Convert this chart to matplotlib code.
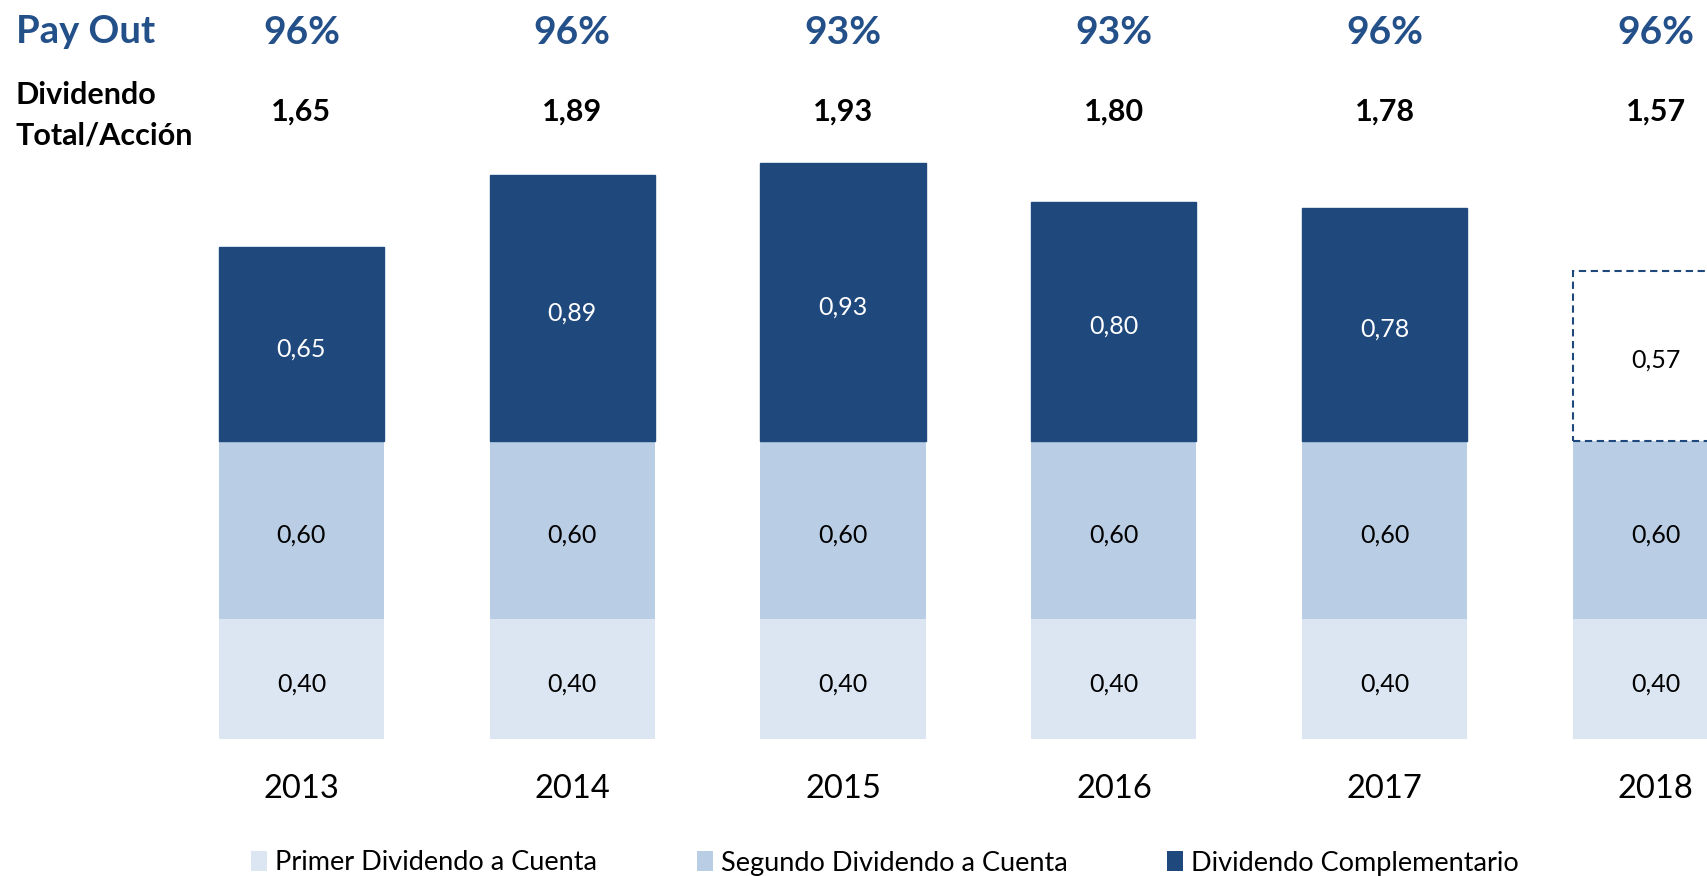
import matplotlib
matplotlib.use('Agg')
from matplotlib import pyplot as plt
from matplotlib.patches import Patch
from matplotlib.transforms import blended_transform_factory, offset_copy
import numpy as np

plt.rcParams['font.family'] = ['Lato', 'DejaVu Sans']

years = ['2013', '2014', '2015', '2016', '2017', '2018']
primer = [0.40, 0.40, 0.40, 0.40, 0.40, 0.40]
segundo = [0.60, 0.60, 0.60, 0.60, 0.60, 0.60]
complementario = [0.65, 0.89, 0.93, 0.80, 0.78, 0.57]
total = ['1,65', '1,89', '1,93', '1,80', '1,78', '1,57']
payout = ['96%', '96%', '93%', '93%', '96%', '96%']
estimated = [False, False, False, False, False, True]

c_light = '#DCE6F2'
c_mid = '#B9CDE5'
c_dark = '#1F497D'
c_title = '#24508A'

W, H = 1707, 876
fig = plt.figure(figsize=(W / 100, H / 100), dpi=100)
base_px = 738.5
ax = fig.add_axes([0, (H - base_px) / H, 1, base_px / H])
ax.set_xlim(-1.113, 5.19)
ax.set_ylim(0, base_px / 298)
ax.axis('off')

x = np.arange(len(years))
w = 0.61
primer = np.array(primer)
segundo = np.array(segundo)
complementario = np.array(complementario)

ax.bar(x, primer, w, color=c_light, linewidth=0)
ax.bar(x, segundo, w, bottom=primer, color=c_mid, linewidth=0)
bottom2 = primer + segundo
for i in range(len(years)):
    if estimated[i]:
        ax.bar(x[i], complementario[i], w, bottom=bottom2[i], facecolor='white',
               edgecolor=c_dark, linewidth=1.5, linestyle=(0, (3.5, 2.2)))
    else:
        ax.bar(x[i], complementario[i], w, bottom=bottom2[i], color=c_dark,
               edgecolor=c_dark, linewidth=1)

def fmt(v):
    return ('%.2f' % v).replace('.', ',')

# segment labels, nudged a few pixels down
lab_tr = offset_copy(ax.transData, fig=fig, x=0, y=-5, units='dots')
for i in range(len(years)):
    ax.text(x[i], primer[i] / 2, fmt(primer[i]), transform=lab_tr,
            ha='center', va='center', fontsize=18)
    ax.text(x[i], primer[i] + segundo[i] / 2, fmt(segundo[i]), transform=lab_tr,
            ha='center', va='center', fontsize=18)
    col = 'black' if estimated[i] else 'white'
    ax.text(x[i], bottom2[i] + complementario[i] / 2, fmt(complementario[i]),
            transform=lab_tr, ha='center', va='center', fontsize=18, color=col)

# header rows and year labels
tr = blended_transform_factory(ax.transData, fig.transFigure)
def fy(px):
    return 1 - px / H

for i in range(len(years)):
    ax.text(x[i], fy(32), payout[i], transform=tr, ha='center', va='center',
            fontsize=28, fontweight='bold', color=c_title)
    ax.text(x[i], fy(112), total[i], transform=tr, ha='center', va='center',
            fontsize=22, fontweight='bold', color='black')
    ax.text(x[i], fy(789), years[i], transform=tr, ha='center', va='center',
            fontsize=23.5, color='black')

fig.text(16 / W, fy(32), 'Pay Out', ha='left', va='center', fontsize=27.5,
         fontweight='bold', color=c_title)
fig.text(16 / W, fy(95), 'Dividendo', ha='left', va='center', fontsize=22,
         fontweight='bold', color='black')
fig.text(16 / W, fy(135), 'Total/Acción', ha='left', va='center', fontsize=22,
         fontweight='bold', color='black')

# legend, one entry per anchor
labels = ['Primer Dividendo a Cuenta', 'Segundo Dividendo a Cuenta', 'Dividendo Complementario']
colors = [c_light, c_mid, c_dark]
anchors = [251, 697, 1167]
for lab, col, ax_px in zip(labels, colors, anchors):
    fig.legend(handles=[Patch(facecolor=col, edgecolor='none', label=lab)],
               loc='center left', bbox_to_anchor=(ax_px / W, fy(863)),
               frameon=False, fontsize=19.5, borderpad=0, borderaxespad=0,
               handlelength=0.6, handleheight=0.75, handletextpad=0.3)

fig.savefig('out.png', dpi=100)
